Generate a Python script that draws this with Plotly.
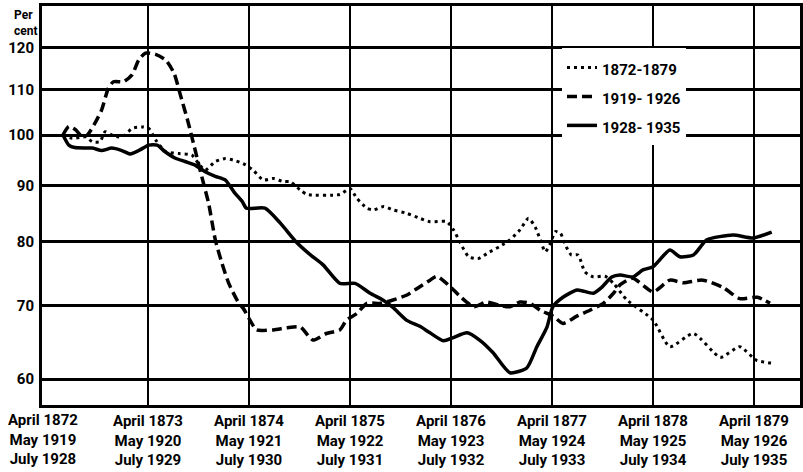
import plotly.graph_objects as go

# ---- data (months after April 1872 / May 1919 / July 1928; percent of start) ----
tick_months = [0, 12, 24, 36, 48, 60, 72, 84]
labels_a = ["April 1872", "April 1873", "April 1874", "April 1875", "April 1876", "April 1877", "April 1878", "April 1879"]
labels_b = ["May 1919", "May 1920", "May 1921", "May 1922", "May 1923", "May 1924", "May 1925", "May 1926"]
labels_c = ["July 1928", "July 1929", "July 1930", "July 1931", "July 1932", "July 1933", "July 1934", "July 1935"]
y_ticks = [60, 70, 80, 90, 100, 110, 120]

months_1872 = [1.9, 3.0, 4.6, 5.4, 6.3, 6.9, 7.7, 8.5, 9.3, 10.1, 11.3, 12.1, 12.9, 14.1, 15.7, 17.2, 18.0, 18.8, 20.0, 21.2,
               22.1, 23.3, 24.5, 25.7, 26.9, 28.1, 28.9, 30.1, 30.9, 34.8, 36.0, 36.8, 38.0, 38.8, 40.0, 41.1, 42.7, 44.3, 45.5, 47.5,
               48.3, 49.1, 50.1, 51.2, 52.6, 53.8, 55.0, 56.2, 57.2, 58.0, 58.6, 59.2, 59.8, 60.4, 61.0, 61.7, 62.3, 63.1, 63.9, 64.9,
               66.3, 67.3, 68.9, 72.0, 74.0, 76.8, 80.0, 82.3, 84.3, 86.3]
values_1872 = [100, 99.3, 99.6, 98.6, 98.6, 100.7, 100.0, 99.6, 100.0, 101.4, 101.7, 101.4, 99.0, 96.6, 96.2, 95.9, 94.2, 92.9, 94.6, 95.2,
               94.9, 94.2, 92.9, 91.0, 91.3, 90.7, 90.7, 89.1, 88.3, 88.3, 89.4, 87.6, 85.8, 85.5, 86.1, 85.5, 84.9, 84.0, 83.4, 83.4,
               82.0, 79.8, 77.5, 77.2, 78.3, 79.2, 80.3, 82.0, 84.0, 82.5, 80.3, 78.3, 79.7, 81.7, 81.4, 79.1, 77.8, 77.8, 75.1, 74.3,
               74.4, 73.3, 70.8, 67.9, 64.2, 66.0, 62.8, 64.2, 62.4, 62.0]

months_1919 = [1.9, 2.6, 3.4, 4.2, 4.8, 5.7, 6.5, 7.3, 7.9, 9.1, 10.1, 10.9, 11.7, 12.9, 14.1, 15.1, 15.8, 16.8, 17.6, 18.4,
               19.2, 20.0, 20.8, 21.6, 22.8, 23.3, 24.1, 24.9, 26.9, 28.5, 30.1, 31.6, 33.2, 34.8, 35.6, 36.8, 38.0, 39.6, 41.1, 42.7,
               44.3, 45.5, 46.3, 47.9, 49.1, 50.7, 52.2, 53.8, 55.0, 56.2, 57.4, 58.6, 60.2, 61.3, 62.9, 64.5, 66.1, 67.3, 68.1, 69.6,
               72.0, 74.0, 75.6, 77.9, 80.3, 82.3, 84.4, 85.9]
values_1919 = [100, 101.8, 101.1, 99.6, 100, 102.5, 105.4, 110.3, 111.8, 111.8, 113.4, 117.0, 118.7, 118.4, 117.0, 113.8, 109.1, 102.5, 96.9, 91.6,
               86.7, 80.3, 76.4, 73.3, 70.3, 69.6, 67.9, 66.5, 66.5, 66.8, 66.9, 65.1, 66.0, 66.5, 67.9, 68.8, 70.3, 70.3, 70.8, 71.5,
               72.8, 73.8, 74.4, 72.8, 71.3, 69.8, 70.5, 70.0, 69.8, 70.5, 70.3, 69.3, 68.4, 67.4, 68.4, 69.3, 70.3, 71.8, 73.1, 74.1,
               72.0, 73.8, 73.4, 73.8, 72.7, 71.0, 71.2, 70.3]

months_1928 = [1.9, 2.6, 3.3, 5.4, 6.5, 7.7, 8.9, 9.9, 10.9, 12.1, 13.1, 14.0, 15.2, 16.4, 17.6, 18.8, 20.0, 21.2, 22.3, 23.2,
               23.7, 25.9, 27.7, 29.7, 31.3, 32.8, 34.8, 36.6, 38.4, 39.9, 41.1, 42.8, 44.3, 45.5, 47.1, 48.2, 49.9, 51.4, 53.0, 55.0,
               57.0, 58.2, 59.4, 60.1, 61.3, 63.0, 64.9, 65.9, 67.1, 68.1, 69.6, 70.8, 72.0, 74.0, 75.2, 76.8, 78.4, 81.5, 83.9, 86.1]
values_1928 = [100, 97.9, 97.4, 97.3, 96.8, 97.3, 96.8, 96.1, 96.8, 97.9, 97.9, 96.6, 95.3, 94.6, 93.9, 92.6, 91.7, 91.0, 88.6, 87.0,
               85.8, 85.8, 83.2, 79.8, 77.8, 76.2, 73.3, 73.3, 71.8, 70.8, 69.7, 67.8, 67.0, 66.1, 65.0, 65.4, 66.1, 65.1, 63.4, 60.8,
               61.4, 64.2, 66.9, 69.8, 71.2, 72.3, 71.8, 72.7, 74.3, 74.6, 74.3, 75.4, 75.9, 78.6, 77.5, 77.8, 80.3, 81.1, 80.6, 81.6]

series_names = ["1872-1879", "1919- 1926", "1928- 1935"]

FONT = "Roboto, Liberation Sans, DejaVu Sans"


def legend_label(name):
    return f"<span style='font-size:15px'>{name}</span>"


fig = go.Figure()
fig.add_trace(go.Scatter(x=months_1872, y=values_1872, mode="lines", name=legend_label(series_names[0]),
                         line=dict(color="black", width=3, dash="3px,4px", shape="spline", smoothing=0.6)))
fig.add_trace(go.Scatter(x=months_1919, y=values_1919, mode="lines", name=legend_label(series_names[1]),
                         line=dict(color="black", width=3.5, dash="10px,5px", shape="spline", smoothing=0.6)))
fig.add_trace(go.Scatter(x=months_1928, y=values_1928, mode="lines", name=legend_label(series_names[2]),
                         line=dict(color="black", width=3.5, shape="spline", smoothing=0.6)))

ticktext = [f"{a}<br>{b}<br>{c}" for a, b, c in zip(labels_a, labels_b, labels_c)]

fig.update_layout(
    width=803, height=472,
    margin=dict(l=42, r=3, t=6, b=67),
    paper_bgcolor="white", plot_bgcolor="white",
    font=dict(family=FONT, size=15, color="black", weight="bold"),
    showlegend=True,
    legend=dict(x=0.686, y=0.895, xanchor="left", yanchor="top", bgcolor="white",
                borderwidth=0, font=dict(size=20, family=FONT, weight="bold"),
                itemwidth=30, tracegroupgap=0),
    xaxis=dict(range=[-0.59, 89.46], tickmode="array", tickvals=tick_months[1:], ticktext=ticktext[1:],
               showgrid=True, gridcolor="black", gridwidth=2, zeroline=False,
               showline=True, linecolor="black", linewidth=3, mirror=True, automargin=False,
               ticks="", tickfont=dict(size=15, family=FONT, weight="bold")),
    yaxis=dict(type="log", range=[1.75455, 2.11727], tickmode="array", tickvals=y_ticks,
               ticktext=[str(v) for v in y_ticks], automargin=False,
               showgrid=True, gridcolor="black", gridwidth=2.5, zeroline=False,
               showline=True, linecolor="black", linewidth=3, mirror=True,
               ticks="", ticklabelstandoff=2, tickfont=dict(size=15, family=FONT, weight="bold")),
)

# first x label at left edge (month 0)
fig.add_annotation(x=tick_months[0], xref="x", y=0, yref="paper", yanchor="top", yshift=-4, xshift=-4,
                   text=ticktext[0], showarrow=False, align="center",
                   font=dict(size=15, family=FONT, weight="bold"))
fig.add_annotation(x=-0.04, xref="paper", y=1.0, yref="paper", xanchor="left", yanchor="top",
                   text="Per<br>cent", showarrow=False, align="left",
                   font=dict(size=12, family=FONT, weight="bold"))

fig.write_html("out.html", config={"displayModeBar": False},
               post_script="document.body.style.margin='0';")
